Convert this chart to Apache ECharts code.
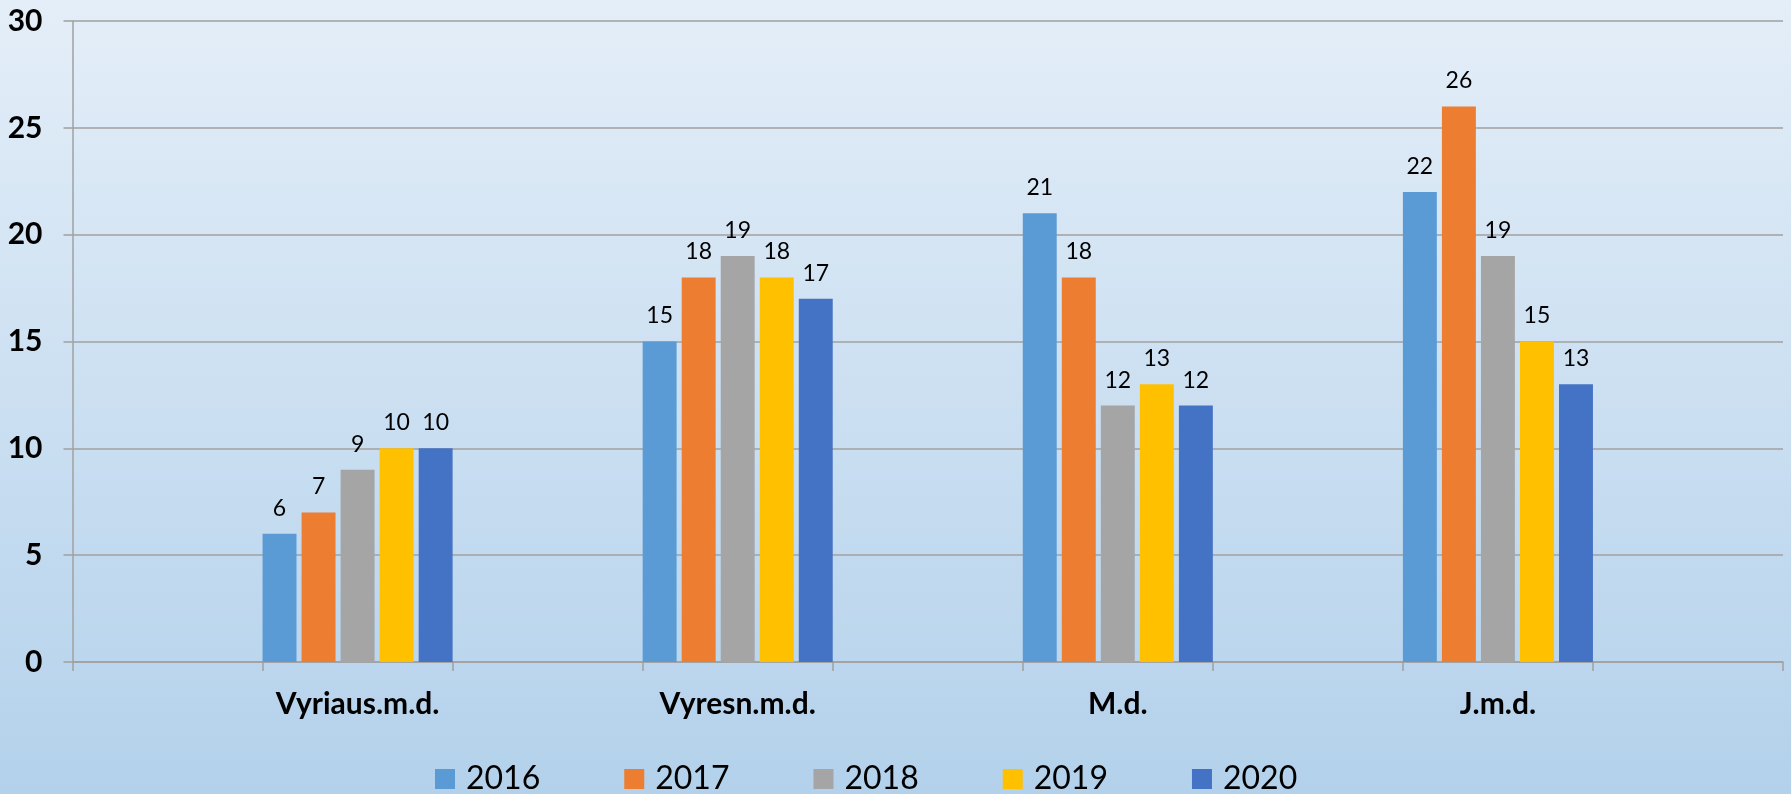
<!DOCTYPE html>
<html>
<head>
<meta charset="utf-8">
<script src="https://cdn.jsdelivr.net/npm/echarts@6/dist/echarts.min.js"></script>
<style>
html,body{margin:0;padding:0;}
#chart{width:1791px;height:794px;}
</style>
</head>
<body>
<div id="chart"></div>
<script>
// Categories (empty slots act as spacers between groups, as in the original)
const categories = ['', 'Vyriaus.m.d.', '', 'Vyresn.m.d.', '', 'M.d.', '', 'J.m.d.', ''];
const years = ['2016', '2017', '2018', '2019', '2020'];
const v2016 = [null, 6, null, 15, null, 21, null, 22, null];
const v2017 = [null, 7, null, 18, null, 18, null, 26, null];
const v2018 = [null, 9, null, 19, null, 12, null, 19, null];
const v2019 = [null, 10, null, 18, null, 13, null, 15, null];
const v2020 = [null, 10, null, 17, null, 12, null, 13, null];
const yTicks = [0, 5, 10, 15, 20, 25, 30];

const colors = ['#5B9BD5', '#ED7D31', '#A5A5A5', '#FFC000', '#4472C4'];
const seriesData = [v2016, v2017, v2018, v2019, v2020];

const chart = echarts.init(document.getElementById('chart'));
chart.setOption({
  animation: false,
  backgroundColor: new echarts.graphic.LinearGradient(0, 0, 0, 1, [
    {offset: 0, color: '#E4EEF8'},
    {offset: 1, color: '#B3D1EB'}
  ]),
  textStyle: {fontFamily: 'Lato'},
  grid: {left: 72.5, right: 8, top: 21, bottom: 132},
  legend: {
    left: 430, top: 758,
    itemWidth: 20, itemHeight: 20, itemGap: 84,
    icon: 'rect',
    data: years,
    textStyle: {fontSize: 32, color: '#000', fontFamily: 'Lato', padding: [0, 0, 0, 6]}
  },
  xAxis: {
    type: 'category',
    data: categories,
    axisLine: {lineStyle: {color: '#A0A0A0', width: 1.5}},
    axisTick: {show: true, length: 9, lineStyle: {color: '#A0A0A0', width: 1.5}},
    axisLabel: {fontSize: 30, fontWeight: 'bold', color: '#000', margin: 27, interval: 0}
  },
  yAxis: {
    type: 'value',
    min: yTicks[0], max: yTicks[yTicks.length - 1], interval: 5,
    axisLine: {show: true, lineStyle: {color: '#A0A0A0', width: 1.5}},
    axisTick: {show: true, length: 9, lineStyle: {color: '#A0A0A0', width: 1.5}},
    splitLine: {lineStyle: {color: '#A0A0A0', width: 1.5}},
    axisLabel: {fontSize: 30, fontWeight: 'bold', color: '#000', margin: 30}
  },
  series: seriesData.map((d, i) => ({
    name: years[i],
    type: 'bar',
    data: d,
    barGap: '15%',
    barCategoryGap: 0,
    itemStyle: {color: colors[i]},
    label: {show: true, position: 'top', distance: 14, fontSize: 23, color: '#000', fontFamily: 'Lato'}
  }))
});
</script>
</body>
</html>
